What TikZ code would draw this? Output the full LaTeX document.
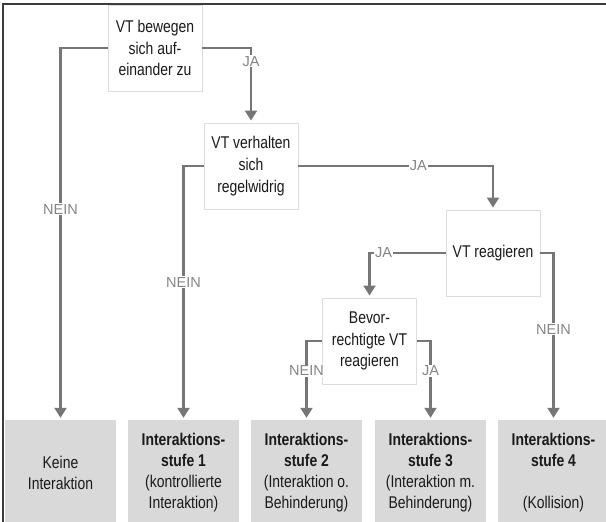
\documentclass[tikz,border=0pt]{standalone}
\usepackage{fontspec}
\setmainfont{Liberation Sans}[FakeStretch=0.82]
\newfontfamily\labfont{Liberation Sans}
\usetikzlibrary{arrows.meta}
\definecolor{conncol}{HTML}{767676}
\definecolor{lblcol}{HTML}{858585}
\definecolor{boxline}{HTML}{DCDCDC}
\definecolor{endfill}{HTML}{D9D9D9}
\definecolor{framecol}{HTML}{3C3C3C}
\definecolor{txtcol}{HTML}{1A1A1A}
\begin{document}
\begin{tikzpicture}[x=1pt,y=-1pt,
  qbox/.style={draw=boxline,line width=0.9pt,fill=white,minimum width=94pt,minimum height=86pt,
    align=center,inner sep=0pt,text=txtcol,font=\fontsize{17}{21.8}\selectfont},
  endbox/.style={fill=endfill,minimum width=111pt,minimum height=106pt,align=center,
    inner sep=0pt,text=txtcol,font=\fontsize{17}{21}\selectfont},
  conn/.style={draw=conncol,line width=2.1pt,-{Triangle[width=12pt,length=10pt]},shorten >=2pt},
  lab/.style={fill=white,text=lblcol,inner sep=1pt,font=\labfont\fontsize{14.5}{15}\selectfont}]
\useasboundingbox (0,0) rectangle (606,522);
\clip (0,0) rectangle (606,522);
\draw[framecol,line width=1.6pt] (606,4) -- (3,4) -- (3,522);
% decision boxes
\node[qbox] (q1) at (155,48) {VT bewegen\\sich auf-\\einander zu};
\node[qbox] (q2) at (251,166) {VT verhalten\\sich\\regelwidrig};
\node[qbox] (q3) at (493,253) {VT reagieren};
\node[qbox] (q4) at (369.5,341) {Bevor-\\rechtigte VT\\reagieren};
% result boxes
\node[endbox] (e0) at (60.5,473) {Keine\\Interaktion};
\node[endbox] (e1) at (183.5,473) {\textbf{Interaktions-}\\\textbf{stufe 1}\\(kontrollierte\\Interaktion)};
\node[endbox] (e2) at (306.5,473) {\textbf{Interaktions-}\\\textbf{stufe 2}\\(Interaktion o.\\Behinderung)};
\node[endbox] (e3) at (430.5,473) {\textbf{Interaktions-}\\\textbf{stufe 3}\\(Interaktion m.\\Behinderung)};
\node[endbox] (e4) at (553.5,473) {\textbf{Interaktions-}\\\textbf{stufe 4}\\[21pt](Kollision)};
% connectors
\draw[conn] (q1.west) -| node[lab,pos=0.717]{NEIN} (e0.north);
\draw[conn] (q1.east) -| node[lab,pos=0.588]{JA} (q2.north);
\draw[conn] (q2.west) -| node[lab,pos=0.729]{NEIN} (e1.north);
\draw[conn] (q2.east) -| node[lab,pos=0.308]{JA} (q3.north);
\draw[conn] (q3.west) -| node[lab,pos=0.407]{JA} (q4.north);
\draw[conn] (q3.east) -| node[lab,pos=0.728]{NEIN} (e4.north);
\draw[conn] (q4.west) -| node[lab,pos=0.69]{NEIN} (e2.north);
\draw[conn] (q4.east) -| node[lab,pos=0.69]{JA} (e3.north);
\end{tikzpicture}
\end{document}
